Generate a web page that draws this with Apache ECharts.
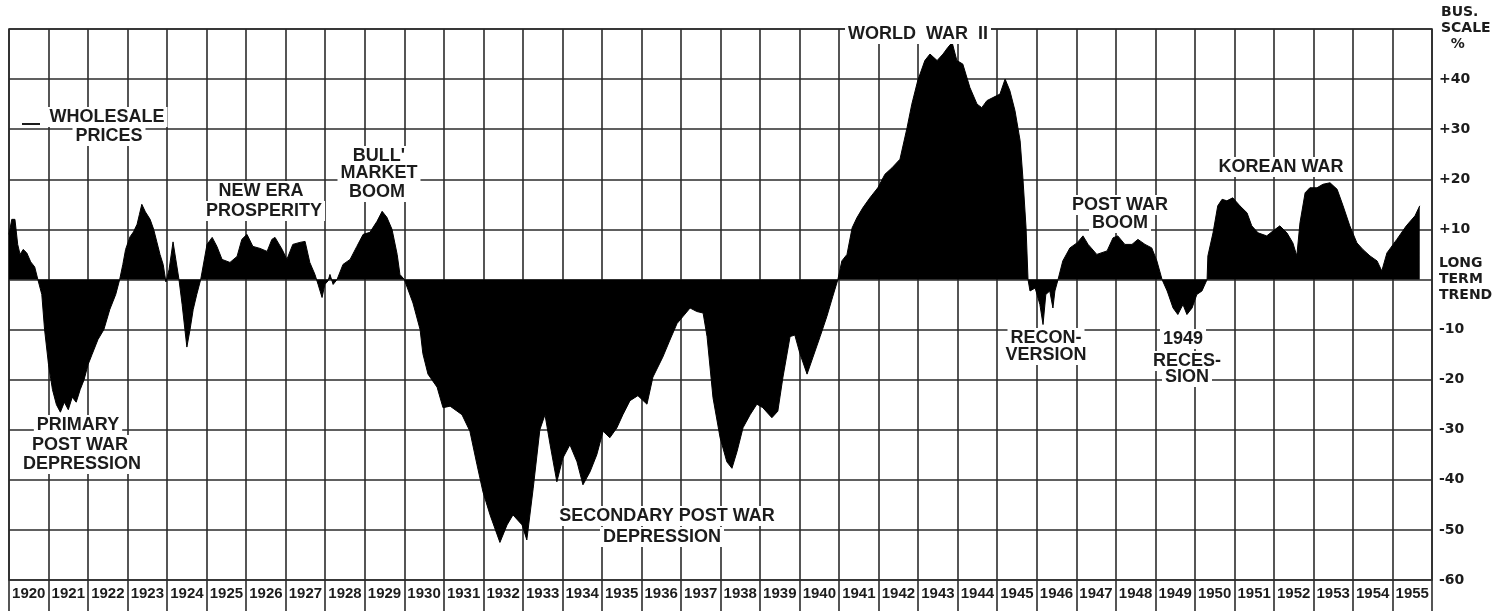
<!DOCTYPE html>
<html>
<head>
<meta charset="utf-8">
<script src="https://cdn.jsdelivr.net/npm/echarts@6/dist/echarts.min.js"></script>
<style>
  html, body { margin: 0; padding: 0; background: #ffffff; }
  #chart { width: 1509px; height: 611px; }
</style>
</head>
<body>
<div id="chart"></div>
<script>
// Calendar years shown along the bottom, one cell per year
const years = ['1920','1921','1922','1923','1924','1925','1926','1927','1928','1929',
  '1930','1931','1932','1933','1934','1935','1936','1937','1938','1939',
  '1940','1941','1942','1943','1944','1945','1946','1947','1948','1949',
  '1950','1951','1952','1953','1954','1955'];

// Business activity, % above / below long term trend (time in decimal years)
const dates = [
  1920.00, 1920.07, 1920.15, 1920.22, 1920.28, 1920.36, 1920.45, 1920.55, 1920.65, 1920.73,
  1920.83, 1920.90, 1921.00, 1921.10, 1921.20, 1921.30, 1921.40, 1921.50, 1921.60, 1921.70,
  1921.80, 1921.90, 1922.00, 1922.10, 1922.25, 1922.40, 1922.55, 1922.70, 1922.80, 1922.88,
  1922.95, 1923.06, 1923.15, 1923.24, 1923.30, 1923.36, 1923.45, 1923.57, 1923.66, 1923.74,
  1923.82, 1923.90, 1923.97, 1924.05, 1924.15, 1924.22, 1924.30, 1924.38, 1924.45, 1924.50,
  1924.58, 1924.66, 1924.75, 1924.85, 1925.01, 1925.14, 1925.26, 1925.39, 1925.59, 1925.77,
  1925.89, 1926.02, 1926.17, 1926.35, 1926.53, 1926.65, 1926.73, 1926.91, 1927.03, 1927.18,
  1927.36, 1927.49, 1927.61, 1927.74, 1927.82, 1927.92, 1927.99, 1928.07, 1928.12, 1928.20,
  1928.30, 1928.45, 1928.63, 1928.80, 1928.96, 1929.13, 1929.31, 1929.44, 1929.56, 1929.69,
  1929.82, 1929.89, 1930.00, 1930.22, 1930.40, 1930.47, 1930.60, 1930.83, 1930.98, 1931.16,
  1931.46, 1931.66, 1931.84, 1931.99, 1932.17, 1932.42, 1932.60, 1932.75, 1932.98, 1933.10,
  1933.26, 1933.43, 1933.56, 1933.69, 1933.86, 1934.01, 1934.19, 1934.37, 1934.52, 1934.70,
  1934.87, 1935.03, 1935.20, 1935.38, 1935.53, 1935.71, 1935.91, 1936.14, 1936.29, 1936.54,
  1936.72, 1936.90, 1937.05, 1937.23, 1937.40, 1937.56, 1937.66, 1937.81, 1937.99, 1938.16,
  1938.29, 1938.42, 1938.57, 1938.75, 1938.92, 1939.07, 1939.30, 1939.45, 1939.58, 1939.76,
  1939.88, 1940.01, 1940.19, 1940.34, 1940.52, 1940.69, 1940.84, 1940.97, 1941.07, 1941.20,
  1941.33, 1941.45, 1941.60, 1941.78, 1941.98, 1942.16, 1942.34, 1942.54, 1942.72, 1942.84,
  1942.99, 1943.17, 1943.30, 1943.48, 1943.63, 1943.75, 1943.86, 1943.98, 1944.13, 1944.31,
  1944.49, 1944.61, 1944.74, 1944.89, 1945.07, 1945.20, 1945.32, 1945.45, 1945.58, 1945.65,
  1945.73, 1945.78, 1945.83, 1945.96, 1946.08, 1946.16, 1946.23, 1946.33, 1946.41, 1946.46,
  1946.54, 1946.66, 1946.84, 1947.02, 1947.17, 1947.30, 1947.52, 1947.78, 1947.93, 1948.05,
  1948.23, 1948.41, 1948.56, 1948.74, 1948.91, 1949.04, 1949.17, 1949.30, 1949.45, 1949.57,
  1949.70, 1949.80, 1949.93, 1950.05, 1950.18, 1950.31, 1950.33, 1950.46, 1950.58, 1950.69,
  1950.81, 1950.96, 1951.14, 1951.32, 1951.44, 1951.60, 1951.82, 1951.98, 1952.15, 1952.33,
  1952.48, 1952.58, 1952.66, 1952.79, 1952.91, 1953.09, 1953.24, 1953.42, 1953.60, 1953.75,
  1953.92, 1954.10, 1954.25, 1954.43, 1954.61, 1954.73, 1954.86, 1955.11, 1955.35, 1955.57,
  1955.69
];
const deviation = [
  9, 12, 12, 7, 5, 6, 5.3, 3.5, 2.5, 0,
  -3, -10, -17, -22, -25, -26.5, -24.5, -26, -23.5, -24.5,
  -22, -20, -17, -15, -12, -10, -6, -3, 0, 3,
  6, 8.5, 9.5, 11, 13, 15, 13.5, 12, 10, 7.5,
  5, 3, -0.5, 2, 7.5, 4, 0, -5, -10, -13.5,
  -10, -6, -3, 0, 7, 8.4, 6.6, 4, 3.4, 4.6,
  8, 9, 6.6, 6.2, 5.6, 8, 8.4, 6, 4, 7,
  7.4, 7.6, 3.4, 1, -1, -3.6, -1, -0.3, 1, -1,
  0, 3, 4, 6.6, 9, 9.4, 11.6, 13.6, 12.4, 10,
  5, 1, 0, -4.7, -10, -14.8, -18.9, -21.5, -25.6, -25.3,
  -27, -30.3, -37, -42.4, -47, -52.5, -49, -47, -49, -52,
  -41.8, -30, -27, -33, -40.4, -35.7, -33, -36.4, -41, -38.4,
  -35, -30.3, -31.6, -29.6, -27, -24.2, -23.2, -24.9, -19.5, -15.5,
  -12.1, -8.8, -7.4, -5.7, -6.4, -6.7, -11.4, -23.6, -31.6, -36.4,
  -37.7, -34.3, -29.6, -27, -24.9, -25.6, -27.6, -26.3, -19.5, -11.4,
  -11.1, -14.8, -18.9, -15.5, -11.4, -7.4, -3.4, 0, 3.7, 5,
  10.3, 12.3, 14.3, 16.3, 18.3, 21, 22.3, 24, 30.3, 35,
  39.7, 43.7, 45, 43.7, 45, 46.3, 47.3, 43.7, 43, 38.3,
  35, 34.3, 35.7, 36.3, 37, 40, 37.7, 33.7, 27.7, 20.3,
  10.3, 0, -2.3, -1.7, -5, -9, -3, -2.3, -5.7, -2.3,
  0, 3.7, 6.3, 7.3, 8.7, 7, 5, 5.7, 8.3, 8.7,
  7, 7, 8, 7, 6.3, 3.7, 0, -2.3, -5.7, -7,
  -5, -7, -5.7, -3, -2.3, 0, 4.7, 9.3, 14.7, 16,
  15.7, 16.3, 14.7, 13.3, 10.7, 9.3, 8.7, 9.7, 10.7, 9.3,
  7.3, 4.7, 11.3, 17.3, 18.3, 18.3, 19, 19.3, 18, 14.7,
  10.7, 7.3, 6, 4.7, 3.7, 1.7, 5.3, 8, 10.7, 12.7,
  14.7
];

// Right-hand business scale, from -60 up to +50
const scaleLabels = ['-60', '-50', '-40', '-30', '-20', '-10', 'LONG\nTERM\nTREND', '+10', '+20', '+30', '+40', ''];

// Captions for the phases of the cycle: [text, centre x, centre y]
const captions = [
  ['WHOLESALE', 107, 117], ['PRICES', 109, 136],
  ['NEW ERA', 261, 191], ['PROSPERITY', 264, 211],
  ["BULL'", 379, 156], ['MARKET', 379, 173], ['BOOM', 377, 192],
  ['WORLD  WAR  II', 918, 34],
  ['POST WAR', 1120, 205], ['BOOM', 1120, 223],
  ['KOREAN WAR', 1281, 167],
  ['PRIMARY', 78, 425], ['POST WAR', 80, 445], ['DEPRESSION', 82, 464],
  ['SECONDARY POST WAR', 667, 516], ['DEPRESSION', 662, 537],
  ['RECON-', 1046, 338], ['VERSION', 1046, 355],
  ['1949', 1183, 339], ['RECES-', 1187, 361], ['SION', 1187, 377]
];

const INK = '#1c1c1c';
const GRID = '#2b2b2b';
const capFont = "'Liberation Sans', Arial, sans-serif";

const chart = echarts.init(document.getElementById('chart'), null, { renderer: 'canvas' });

const graphics = captions.map(c => ({
  type: 'text',
  z: 100,
  x: c[1],
  y: c[2],
  style: {
    text: c[0],
    fill: INK,
    font: "bold 18px " + capFont,
    align: 'center',
    verticalAlign: 'middle',
    backgroundColor: '#ffffff',
    padding: [1, 3]
  }
}));

// short rule in front of the wholesale prices caption
graphics.push({
  type: 'line', z: 100,
  shape: { x1: 22, y1: 124, x2: 40, y2: 124 },
  style: { stroke: INK, lineWidth: 2 }
});

// heading of the business scale
graphics.push({
  type: 'text', z: 100,
  x: 1441, y: 4,
  style: {
    text: 'BUS.\nSCALE\n  %',
    fill: INK,
    font: "bold 14px 'DejaVu Sans', sans-serif",
    lineHeight: 16,
    align: 'left',
    verticalAlign: 'top',
    backgroundColor: '#ffffff'
  }
});

const option = {
  backgroundColor: '#ffffff',
  animation: false,
  grid: {
    left: 9, right: 77, top: 29, bottom: 31,
    show: true, borderColor: GRID, borderWidth: 1.6, backgroundColor: 'transparent'
  },
  xAxis: [
    {
      type: 'category',
      data: years,
      boundaryGap: true,
      position: 'bottom',
      axisLine: { show: false, onZero: false },
      axisTick: { show: true, interval: 0, length: 31, lineStyle: { color: GRID, width: 1.6 } },
      splitLine: { show: true, interval: 0, lineStyle: { color: GRID, width: 1.6 } },
      axisLabel: {
        interval: 0, margin: 6, color: INK,
        fontFamily: "'Liberation Sans', Arial, sans-serif",
        fontWeight: 'bold', fontSize: 15
      }
    },
    {
      type: 'value', min: 1920, max: 1956, show: false,
      splitLine: { show: false }
    }
  ],
  yAxis: {
    type: 'value',
    position: 'right',
    min: -60, max: 50, interval: 10,
    axisLine: { show: false },
    axisTick: { show: false },
    splitLine: { show: true, lineStyle: { color: GRID, width: 1.6 } },
    axisLabel: {
      margin: 7, color: INK,
      fontFamily: "'DejaVu Sans', sans-serif", fontWeight: 'bold', fontSize: 14,
      lineHeight: 16,
      formatter: v => scaleLabels[Math.round((v + 60) / 10)]
    }
  },
  series: [{
    type: 'line',
    xAxisIndex: 1,
    data: dates.map((d, i) => [d, deviation[i]]),
    symbol: 'none',
    smooth: false,
    lineStyle: { color: '#000', width: 1 },
    areaStyle: { color: '#000', opacity: 1 },
    z: 3
  }],
  graphic: graphics
};

chart.setOption(option);
</script>
</body>
</html>
